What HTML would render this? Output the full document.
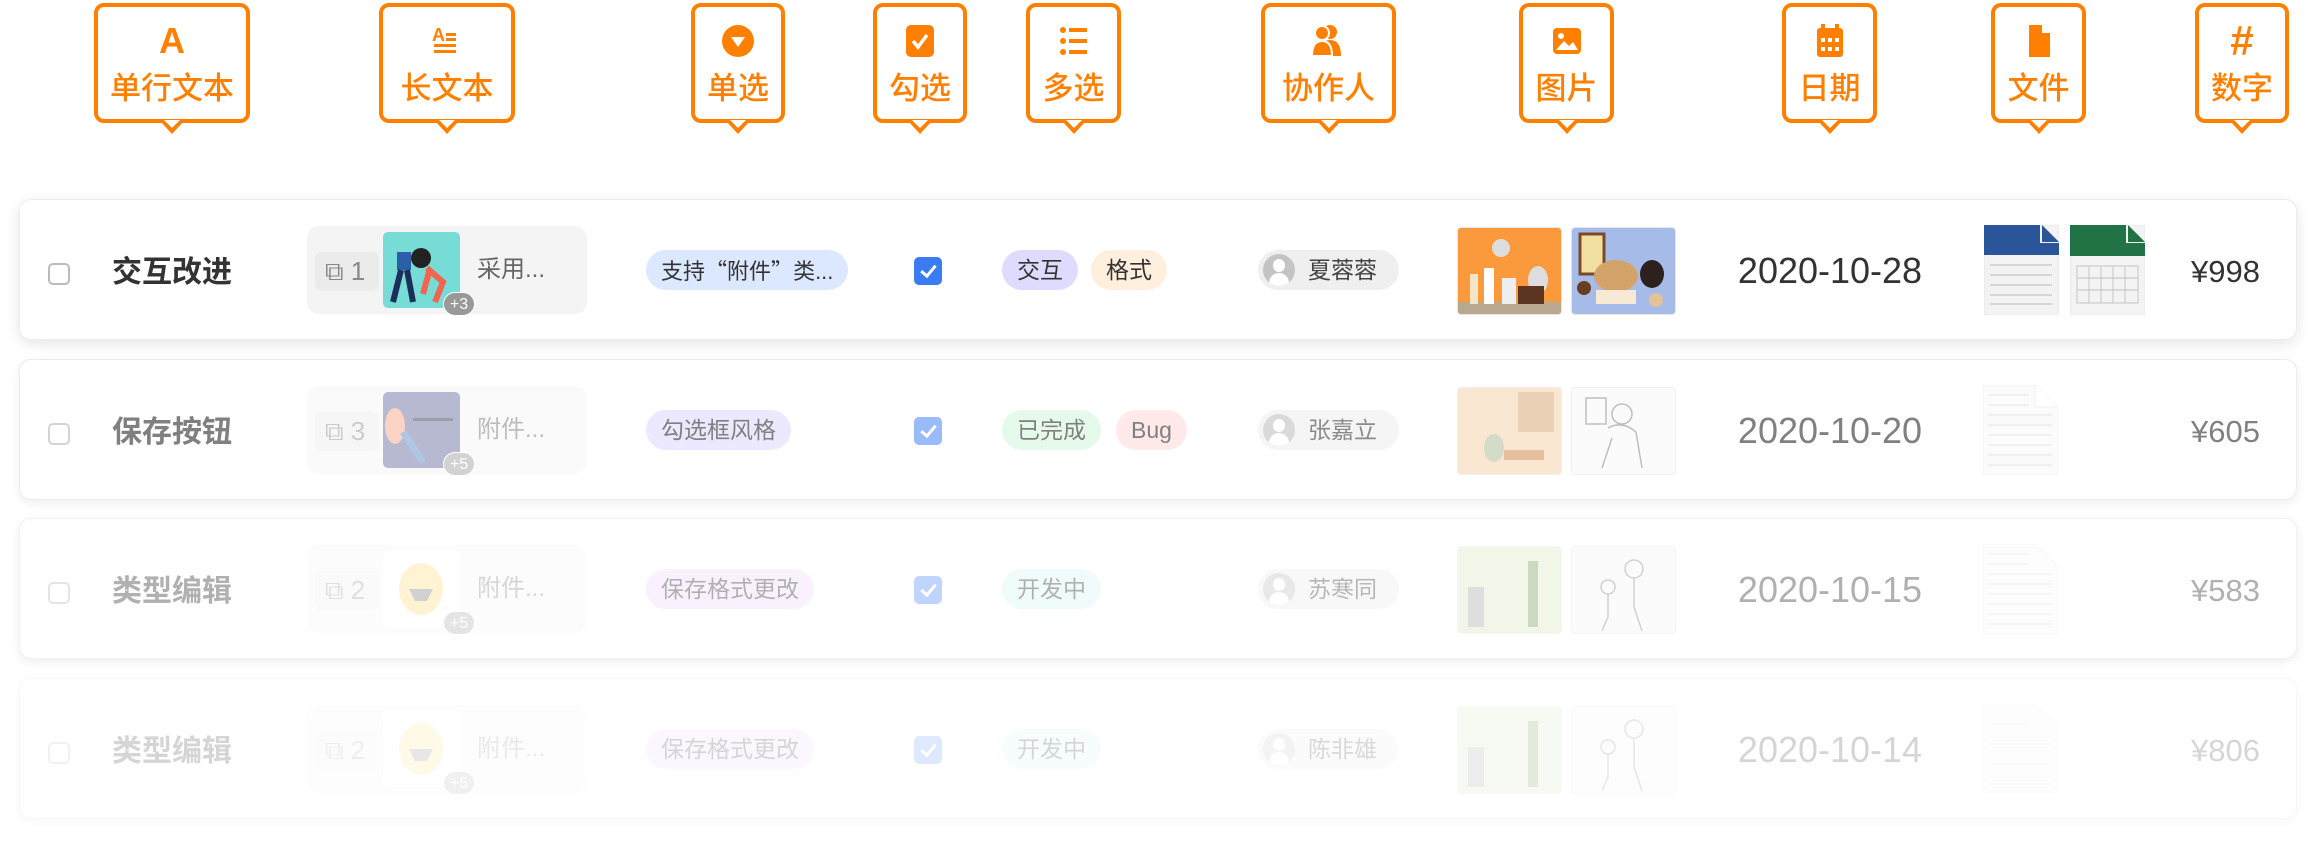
<!DOCTYPE html>
<html><head><meta charset="utf-8">
<style>
*{margin:0;padding:0;box-sizing:border-box}
body{width:2316px;height:844px;background:#fff;position:relative;overflow:hidden;font-family:"Liberation Sans","Noto Sans CJK SC",sans-serif;color:#333}
.co{position:absolute;top:3px;height:120px;border:4px solid #ff8000;border-radius:10px;background:#fff}
.co .ic{position:absolute;top:12px;left:0;right:0;height:44px;display:flex;justify-content:center;align-items:center}
.co .t{position:absolute;top:62px;left:0;right:0;text-align:center;font-size:31px;font-weight:500;color:#ff8000;line-height:40px;white-space:nowrap}
.co:after{content:"";position:absolute;left:50%;bottom:-15px;margin-left:-12px;width:0;height:0;border-left:12px solid transparent;border-right:12px solid transparent;border-top:13px solid #ff8000}
.co:before{content:"";position:absolute;left:50%;bottom:-9px;margin-left:-8px;width:0;height:0;border-left:8px solid transparent;border-right:8px solid transparent;border-top:8px solid #fff;z-index:2}
.card{position:absolute;left:19px;width:2278px;height:141px;border-radius:12px;background:#fff;border:1px solid #ececec;box-shadow:0 3px 10px rgba(0,0,0,0.07)}
.in{position:absolute;left:0;top:0;width:100%;height:100%}
.a{position:absolute}
.cb{left:28px;top:63px;width:22px;height:22px;border:2px solid #bbb;border-radius:5px}
.title{left:92px;top:52px;font-size:30px;font-weight:600;line-height:42px;color:#333}
.cell{left:287px;top:26px;width:280px;height:88px;background:#f4f4f4;border-radius:12px}
.chip{left:8px;top:26px;width:64px;height:39px;background:#ebebeb;border-radius:7px;font-size:26px;color:#888;line-height:39px;padding-left:10px}
.img{left:76px;top:6px;width:77px;height:76px;border-radius:5px;overflow:hidden}
.badge{left:136px;top:66px;width:32px;height:24px;border-radius:12px;background:#999;color:#fff;font-size:16px;line-height:24px;text-align:center;border:1px solid #fff}
.ct{left:170px;top:28px;font-size:24px;color:#666;line-height:32px}
.pill{top:50px;height:40px;border-radius:20px;font-size:23px;line-height:40px;padding:0 15px;color:#333;white-space:nowrap}
.q{font-family:"Noto Sans CJK SC",sans-serif}
.ck{left:894px;top:57px;width:28px;height:28px;border-radius:5px;background:#3b7cf5}
.ck:after{content:"";position:absolute;left:10px;top:5px;width:6px;height:12px;border-right:3px solid #fff;border-bottom:3px solid #fff;transform:rotate(40deg)}
.col{left:1238px;top:50px;width:141px;height:40px;border-radius:20px;background:#efefef;font-size:23px;line-height:40px;padding-left:50px;color:#444}
.av{position:absolute;left:5px;top:4px;width:32px;height:32px;border-radius:50%;background:#c4c4c4;overflow:hidden}
.av:before{content:"";position:absolute;left:10px;top:5px;width:12px;height:13px;border-radius:50%;background:#fff}
.av:after{content:"";position:absolute;left:6px;top:19px;width:20px;height:16px;border-radius:10px 10px 0 0;background:#fff}
.pic{top:27px;width:105px;height:88px;border-radius:4px;overflow:hidden;border:1px solid #e6e6e6}
.date{left:1700px;width:220px;text-align:center;top:51px;font-size:36px;line-height:40px;color:#333}
.num{right:36px;top:52px;font-size:31px;line-height:40px;color:#333}
.file{top:25px;width:75px;height:88px}
</style></head><body>

<!-- callouts -->
<div class="co" style="left:94px;width:156px"><div class="ic"><span style="font-size:36px;font-weight:bold;color:#ff8000;font-family:'Liberation Sans',sans-serif">A</span></div><div class="t">单行文本</div></div>
<div class="co" style="left:379px;width:136px"><div class="ic"><svg width="30" height="36" viewBox="0 0 30 32"><text x="0" y="16" font-size="18" font-weight="bold" fill="#ff8000" font-family="Liberation Sans">A</text><rect x="14" y="8" width="10" height="3" fill="#ff8000"/><rect x="14" y="13" width="10" height="3" fill="#ff8000"/><rect x="2" y="19" width="22" height="3" fill="#ff8000"/><rect x="2" y="25" width="22" height="3" fill="#ff8000"/></svg></div><div class="t">长文本</div></div>
<div class="co" style="left:691px;width:94px"><div class="ic"><svg width="34" height="34"><circle cx="17" cy="17" r="16" fill="#ff8000"/><path d="M10 13 L24 13 L17 23 Z" fill="#fff"/></svg></div><div class="t">单选</div></div>
<div class="co" style="left:873px;width:94px"><div class="ic"><svg width="30" height="34"><rect x="1" y="1" width="28" height="32" rx="5" fill="#ff8000"/><path d="M8 17 L13 23 L22 11" stroke="#fff" stroke-width="3.5" fill="none"/></svg></div><div class="t">勾选</div></div>
<div class="co" style="left:1026px;width:95px"><div class="ic"><svg width="30" height="30"><circle cx="4" cy="4" r="3" fill="#ff8000"/><circle cx="4" cy="15" r="3" fill="#ff8000"/><circle cx="4" cy="26" r="3" fill="#ff8000"/><rect x="10" y="2" width="18" height="4" fill="#ff8000"/><rect x="10" y="13" width="18" height="4" fill="#ff8000"/><rect x="10" y="24" width="18" height="4" fill="#ff8000"/></svg></div><div class="t">多选</div></div>
<div class="co" style="left:1261px;width:135px"><div class="ic"><svg width="36" height="34"><circle cx="19" cy="8" r="7" fill="#ff8000"/><path d="M8 32 Q8 16 19 16 Q30 16 30 32 Z" fill="#ff8000"/><circle cx="11" cy="9" r="7" fill="#ff8000" stroke="#fff" stroke-width="2"/><path d="M1 32 Q1 17 11 17 Q21 17 21 32 Z" fill="#ff8000" stroke="#fff" stroke-width="2"/></svg></div><div class="t">协作人</div></div>
<div class="co" style="left:1519px;width:95px"><div class="ic"><svg width="30" height="28"><rect x="1" y="1" width="28" height="26" rx="4" fill="#ff8000"/><circle cx="9" cy="9" r="3" fill="#fff"/><path d="M4 23 L12 14 L17 19 L21 15 L26 23 Z" fill="#fff"/></svg></div><div class="t">图片</div></div>
<div class="co" style="left:1782px;width:95px"><div class="ic"><svg width="28" height="34"><rect x="5" y="0" width="4" height="6" fill="#ff8000"/><rect x="19" y="0" width="4" height="6" fill="#ff8000"/><rect x="1" y="4" width="26" height="29" rx="3" fill="#ff8000"/><g fill="#fff"><rect x="5" y="14" width="4" height="4"/><rect x="12" y="14" width="4" height="4"/><rect x="19" y="14" width="4" height="4"/><rect x="5" y="23" width="4" height="4"/><rect x="12" y="23" width="4" height="4"/><rect x="19" y="23" width="4" height="4"/></g></svg></div><div class="t">日期</div></div>
<div class="co" style="left:1991px;width:95px"><div class="ic"><svg width="26" height="34"><path d="M3 1 L16 1 L24 9 L24 33 L3 33 Z" fill="#ff8000"/><path d="M16 1 L16 9 L24 9" fill="#fff"/></svg></div><div class="t">文件</div></div>
<div class="co" style="left:2195px;width:94px"><div class="ic"><span style="font-size:42px;font-weight:bold;color:#ff8000">#</span></div><div class="t">数字</div></div>

<!-- row 1 -->
<div class="card" style="top:199px;box-shadow:0 4px 14px rgba(0,0,0,0.10)"><div class="in">
<div class="a cb"></div><div class="a title">交互改进</div>
<div class="a cell"><div class="a chip">⧉ 1</div>
<div class="a img" style="background:#77dcd6"><svg width="77" height="76"><circle cx="38" cy="26" r="10" fill="#222"/><rect x="14" y="20" width="14" height="18" fill="#2b5fa8"/><path d="M18 38 L10 70 M24 38 L30 70" stroke="#1c2f5a" stroke-width="6"/><path d="M44 36 L60 50 L52 70 M46 40 L40 62" stroke="#f06450" stroke-width="6" fill="none"/></svg></div>
<div class="a badge">+3</div><div class="a ct">采用...</div></div>
<div class="a pill" style="left:626px;background:#dbe8ff;font-size:22px">支持<span class="q">“</span>附件<span class="q">”</span>类...</div>
<div class="a ck"></div>
<div class="a pill" style="left:982px;background:#dedbff">交互</div>
<div class="a pill" style="left:1071px;background:#ffefdc">格式</div>
<div class="a col"><div class="av"></div>夏蓉蓉</div>
<div class="a pic" style="left:1437px;background:#fb9a3c"><svg width="105" height="88"><rect x="0" y="74" width="105" height="14" fill="#b8a890"/><rect x="12" y="46" width="8" height="30" fill="#f4e4c8"/><rect x="26" y="40" width="10" height="36" fill="#fff"/><rect x="44" y="50" width="14" height="26" fill="#eee"/><ellipse cx="80" cy="52" rx="10" ry="14" fill="#ddd"/><circle cx="43" cy="20" r="9" fill="#ddd"/><rect x="60" y="58" width="26" height="18" fill="#5b3422"/></svg></div>
<div class="a pic" style="left:1551px;background:#a6bbe8"><svg width="105" height="88"><rect x="8" y="6" width="24" height="40" fill="#f1dea1" stroke="#7a4a2a" stroke-width="3"/><ellipse cx="44" cy="48" rx="22" ry="16" fill="#d4a36a"/><rect x="24" y="62" width="40" height="14" fill="#f7e9d3"/><ellipse cx="80" cy="46" rx="12" ry="14" fill="#2d211d"/><circle cx="12" cy="60" r="7" fill="#6b3d20"/><circle cx="84" cy="72" r="7" fill="#e2c39a"/></svg></div>
<div class="a date">2020-10-28</div>
<div class="a file" style="left:1964px"><svg width="75" height="90"><rect x="0" y="0" width="75" height="90" fill="#f3f3f3" stroke="#e6e6e6"/><path d="M0 0 L56 0 L56 18 L75 18 L75 30 L0 30Z" fill="#2a5699"/><path d="M58 0 L75 17 L58 17Z" fill="#2a5699"/><g stroke="#ccc" stroke-width="1.5"><line x1="6" y1="40" x2="68" y2="40"/><line x1="6" y1="50" x2="68" y2="50"/><line x1="6" y1="60" x2="68" y2="60"/><line x1="6" y1="70" x2="68" y2="70"/><line x1="6" y1="79" x2="68" y2="79"/></g></svg></div>
<div class="a file" style="left:2050px"><svg width="75" height="90"><rect x="0" y="0" width="75" height="90" fill="#f3f3f3" stroke="#e6e6e6"/><path d="M0 0 L56 0 L56 18 L75 18 L75 31 L0 31Z" fill="#217346"/><path d="M58 0 L75 17 L58 17Z" fill="#217346"/><g stroke="#ccc" stroke-width="1.2" fill="none"><rect x="7" y="41" width="61" height="37"/><line x1="7" y1="53" x2="68" y2="53"/><line x1="7" y1="65" x2="68" y2="65"/><line x1="19" y1="41" x2="19" y2="78"/><line x1="31" y1="41" x2="31" y2="78"/><line x1="43" y1="41" x2="43" y2="78"/><line x1="55" y1="41" x2="55" y2="78"/></g></svg></div>
<div class="a num">¥998</div>
</div></div>

<!-- row 2 -->
<div class="card" style="top:359px"><div class="in" style="opacity:0.62">
<div class="a cb"></div><div class="a title">保存按钮</div>
<div class="a cell" style="opacity:0.7"><div class="a chip">⧉ 3</div>
<div class="a img" style="background:#5a5f9a"><svg width="77" height="76"><ellipse cx="12" cy="34" rx="10" ry="18" fill="#f49a7a"/><path d="M20 40 L40 70" stroke="#4a7fc0" stroke-width="7"/><rect x="30" y="26" width="40" height="3" fill="#223"/></svg></div>
<div class="a badge">+5</div><div class="a ct">附件...</div></div>
<div class="a pill" style="left:626px;background:#e0dbff">勾选框风格</div>
<div class="a ck" style="background:#5b93f7"></div>
<div class="a pill" style="left:982px;background:#d8f7e0">已完成</div>
<div class="a pill" style="left:1096px;background:#ffdcdc">Bug</div>
<div class="a col"><div class="av"></div>张嘉立</div>
<div class="a pic" style="left:1437px;background:#f6d9b8"><svg width="105" height="88"><rect x="60" y="4" width="36" height="40" fill="#e0b88a"/><ellipse cx="36" cy="60" rx="10" ry="14" fill="#b8c8a8"/><rect x="46" y="62" width="40" height="10" fill="#d99a66"/></svg></div>
<div class="a pic" style="left:1551px;background:#fafafa"><svg width="105" height="88" fill="none" stroke="#999" stroke-width="1.5"><circle cx="50" cy="26" r="10"/><path d="M36 40 Q50 32 64 44 L70 80 M30 80 L40 50"/><rect x="14" y="10" width="20" height="26"/></svg></div>
<div class="a date">2020-10-20</div>
<div class="a file" style="left:1963px;opacity:0.6"><svg width="75" height="90"><path d="M0 0 L52 0 L75 22 L75 90 L0 90Z" fill="#f6f6f6" stroke="#ddd"/><path d="M52 0 L52 22 L75 22" fill="#fff" stroke="#ddd"/><g stroke="#ccc" stroke-width="1.5"><line x1="6" y1="10" x2="46" y2="10"/><line x1="6" y1="20" x2="46" y2="20"/><line x1="6" y1="30" x2="68" y2="30"/><line x1="6" y1="40" x2="68" y2="40"/><line x1="6" y1="50" x2="68" y2="50"/><line x1="6" y1="60" x2="68" y2="60"/><line x1="6" y1="70" x2="68" y2="70"/><line x1="6" y1="80" x2="68" y2="80"/></g></svg></div>
<div class="a num">¥605</div>
</div></div>

<!-- row 3 -->
<div class="card" style="top:518px;border-color:#f2f2f2"><div class="in" style="opacity:0.38">
<div class="a cb"></div><div class="a title">类型编辑</div>
<div class="a cell" style="opacity:0.7"><div class="a chip">⧉ 2</div>
<div class="a img" style="background:#fff"><svg width="77" height="76"><ellipse cx="38" cy="38" rx="22" ry="26" fill="#ffd35a"/><path d="M26 38 L50 38 L44 50 L32 50Z" fill="#555"/></svg></div>
<div class="a badge">+5</div><div class="a ct">附件...</div></div>
<div class="a pill" style="left:626px;background:#f4dcff">保存格式更改</div>
<div class="a ck" style="background:#5b93f7"></div>
<div class="a pill" style="left:982px;background:#d8f7f7">开发中</div>
<div class="a col"><div class="av"></div>苏寒同</div>
<div class="a pic" style="left:1437px;background:#dce8c4"><svg width="105" height="88"><rect x="10" y="40" width="16" height="40" fill="#aaa"/><rect x="70" y="14" width="10" height="66" fill="#7a9a5a"/></svg></div>
<div class="a pic" style="left:1551px;background:#f6f6f6"><svg width="105" height="88" fill="none" stroke="#888" stroke-width="1.5"><circle cx="62" cy="22" r="9"/><circle cx="36" cy="40" r="7"/><path d="M62 32 L62 60 L70 84 M36 48 L36 70 L30 84"/></svg></div>
<div class="a date">2020-10-15</div>
<div class="a file" style="left:1963px;opacity:0.6"><svg width="75" height="90"><path d="M0 0 L52 0 L75 22 L75 90 L0 90Z" fill="#f6f6f6" stroke="#ddd"/><g stroke="#ccc" stroke-width="1.5"><line x1="6" y1="10" x2="46" y2="10"/><line x1="6" y1="20" x2="46" y2="20"/><line x1="6" y1="30" x2="68" y2="30"/><line x1="6" y1="40" x2="68" y2="40"/><line x1="6" y1="50" x2="68" y2="50"/><line x1="6" y1="60" x2="68" y2="60"/><line x1="6" y1="70" x2="68" y2="70"/><line x1="6" y1="80" x2="68" y2="80"/></g></svg></div>
<div class="a num">¥583</div>
</div></div>

<!-- row 4 -->
<div class="card" style="top:678px;border-color:#f7f7f7;box-shadow:0 3px 10px rgba(0,0,0,0.03)"><div class="in" style="opacity:0.2">
<div class="a cb"></div><div class="a title">类型编辑</div>
<div class="a cell" style="opacity:0.7"><div class="a chip">⧉ 2</div>
<div class="a img" style="background:#fff"><svg width="77" height="76"><ellipse cx="38" cy="38" rx="22" ry="26" fill="#ffd35a"/><path d="M26 38 L50 38 L44 50 L32 50Z" fill="#555"/></svg></div>
<div class="a badge">+5</div><div class="a ct">附件...</div></div>
<div class="a pill" style="left:626px;background:#f4dcff">保存格式更改</div>
<div class="a ck" style="background:#5b93f7"></div>
<div class="a pill" style="left:982px;background:#d8f7f7">开发中</div>
<div class="a col"><div class="av"></div>陈非雄</div>
<div class="a pic" style="left:1437px;background:#dce8c4"><svg width="105" height="88"><rect x="10" y="40" width="16" height="40" fill="#aaa"/><rect x="70" y="14" width="10" height="66" fill="#7a9a5a"/></svg></div>
<div class="a pic" style="left:1551px;background:#f6f6f6"><svg width="105" height="88" fill="none" stroke="#888" stroke-width="1.5"><circle cx="62" cy="22" r="9"/><circle cx="36" cy="40" r="7"/><path d="M62 32 L62 60 L70 84 M36 48 L36 70 L30 84"/></svg></div>
<div class="a date">2020-10-14</div>
<div class="a file" style="left:1963px;opacity:0.6"><svg width="75" height="90"><path d="M0 0 L52 0 L75 22 L75 90 L0 90Z" fill="#f6f6f6" stroke="#ddd"/><g stroke="#ccc" stroke-width="1.5"><line x1="6" y1="20" x2="46" y2="20"/><line x1="6" y1="40" x2="68" y2="40"/><line x1="6" y1="60" x2="68" y2="60"/><line x1="6" y1="80" x2="68" y2="80"/></g></svg></div>
<div class="a num">¥806</div>
</div></div>

</body></html>
